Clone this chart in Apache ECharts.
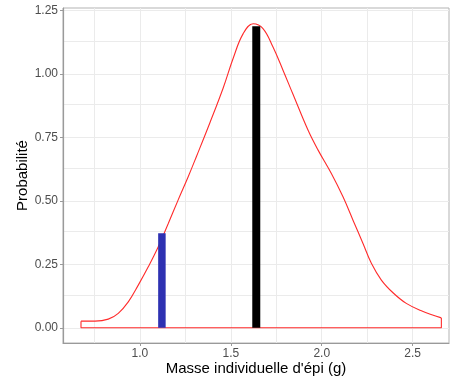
<!DOCTYPE html>
<html><head><meta charset="utf-8">
<script src="https://cdn.jsdelivr.net/npm/echarts@6/dist/echarts.min.js"></script>
<style>html,body{margin:0;padding:0;background:#fff}#c{width:450px;height:379px}</style>
</head><body><div id="c"></div>
<script>
// Density curve (x = masse, y = densité)
const curveX = [0.676, 0.753, 0.826, 0.881, 0.936, 0.991, 1.046, 1.101, 1.156, 1.21, 1.265, 1.311, 1.385, 1.458, 1.513, 1.568, 1.623, 1.677, 1.732, 1.787, 1.842, 1.925, 1.98, 2.053, 2.117, 2.172, 2.227, 2.273, 2.328, 2.392, 2.465, 2.548, 2.658];
const curveY = [0.026, 0.026, 0.034, 0.057, 0.102, 0.168, 0.240, 0.319, 0.411, 0.503, 0.594, 0.675, 0.808, 0.945, 1.062, 1.159, 1.198, 1.179, 1.106, 1.015, 0.920, 0.778, 0.70, 0.608, 0.516, 0.424, 0.332, 0.254, 0.188, 0.138, 0.096, 0.067, 0.039];
// Vertical bars
const blackBarX = 1.64, blackBarY = 1.188;
const blueBarX = 1.121, blueBarY = 0.372;
// Ticks
const xMajor = [1.0, 1.5, 2.0, 2.5];
const xMinor = [0.75, 1.25, 1.75, 2.25];
const yMajor = [0, 0.25, 0.5, 0.75, 1.0, 1.25];
const yMinor = [0.125, 0.375, 0.625, 0.875, 1.125];
const xLabels = ['1.0', '1.5', '2.0', '2.5'];
const yLabels = ['0.00', '0.25', '0.50', '0.75', '1.00', '1.25'];

const curve = curveX.map((x, i) => [x, curveY[i]]);
const first = curve[0], last = curve[curve.length - 1];
const closing = [first, [first[0], 0], [last[0], 0], last];

const FONT = 'Liberation Sans';
const gridColor = '#ebebeb';
const gridLines = [];
xMajor.concat(xMinor).forEach(v => gridLines.push({xAxis: v}));
yMajor.concat(yMinor).forEach(v => gridLines.push({yAxis: v}));

const chart = echarts.init(document.getElementById('c'), null, {renderer: 'canvas'});
chart.setOption({
  animation: false,
  grid: {left: 63, right: 1, top: 8, bottom: 36, outerBoundsMode: 'none', containLabel: false, show: true, borderColor: '#b3b3b3', borderWidth: 1, backgroundColor: 'transparent'},
  xAxis: {
    type: 'value', min: 0.577, max: 2.70,
    name: "Masse individuelle d'épi (g)", nameLocation: 'middle', nameGap: 18, nameMoveOverlap: false,
    nameTextStyle: {fontFamily: FONT, fontSize: 15, color: '#000'},
    axisLine: {show: true, onZero: false, lineStyle: {color: '#9a9a9a', width: 1.2}},
    axisTick: {show: true, customValues: xMajor, length: 3, lineStyle: {color: '#9a9a9a'}},
    axisLabel: {customValues: xMajor, formatter: v => xLabels[xMajor.findIndex(t => Math.abs(t - v) < 1e-6)] ?? '', fontFamily: FONT, fontSize: 12, color: '#4d4d4d', margin: 5},
    splitLine: {show: false}
  },
  yAxis: {
    type: 'value', min: -0.06, max: 1.26,
    name: 'Probabilité', nameLocation: 'middle', nameGap: 33, nameMoveOverlap: false,
    nameTextStyle: {fontFamily: FONT, fontSize: 15, color: '#000'},
    axisLine: {show: true, onZero: false, lineStyle: {color: '#9a9a9a', width: 1.2}},
    axisTick: {show: true, customValues: yMajor, length: 3, lineStyle: {color: '#9a9a9a'}},
    axisLabel: {customValues: yMajor, formatter: v => yLabels[yMajor.findIndex(t => Math.abs(t - v) < 1e-6)] ?? '', fontFamily: FONT, fontSize: 12, color: '#4d4d4d', margin: 5},
    splitLine: {show: false}
  },
  series: [
    {type: 'line', data: [], silent: true, z: 0,
     markLine: {silent: true, symbol: 'none', label: {show: false}, animation: false, z: 0,
       lineStyle: {color: gridColor, type: 'solid', width: 1}, data: gridLines}},
    {type: 'line', data: curve, smooth: 0.4, showSymbol: false, lineStyle: {color: '#ff2b2b', width: 1.1}, z: 3},
    {type: 'line', data: closing, smooth: false, showSymbol: false, lineStyle: {color: '#ff2b2b', width: 1.1}, z: 3},
    {type: 'line', data: [[blueBarX, 0], [blueBarX, blueBarY]], showSymbol: false, lineStyle: {color: '#2e31b2', width: 7.5, cap: 'butt'}, z: 5},
    {type: 'line', data: [[blackBarX, 0], [blackBarX, blackBarY]], showSymbol: false, lineStyle: {color: '#000', width: 8, cap: 'butt'}, z: 5}
  ]
});
</script></body></html>
